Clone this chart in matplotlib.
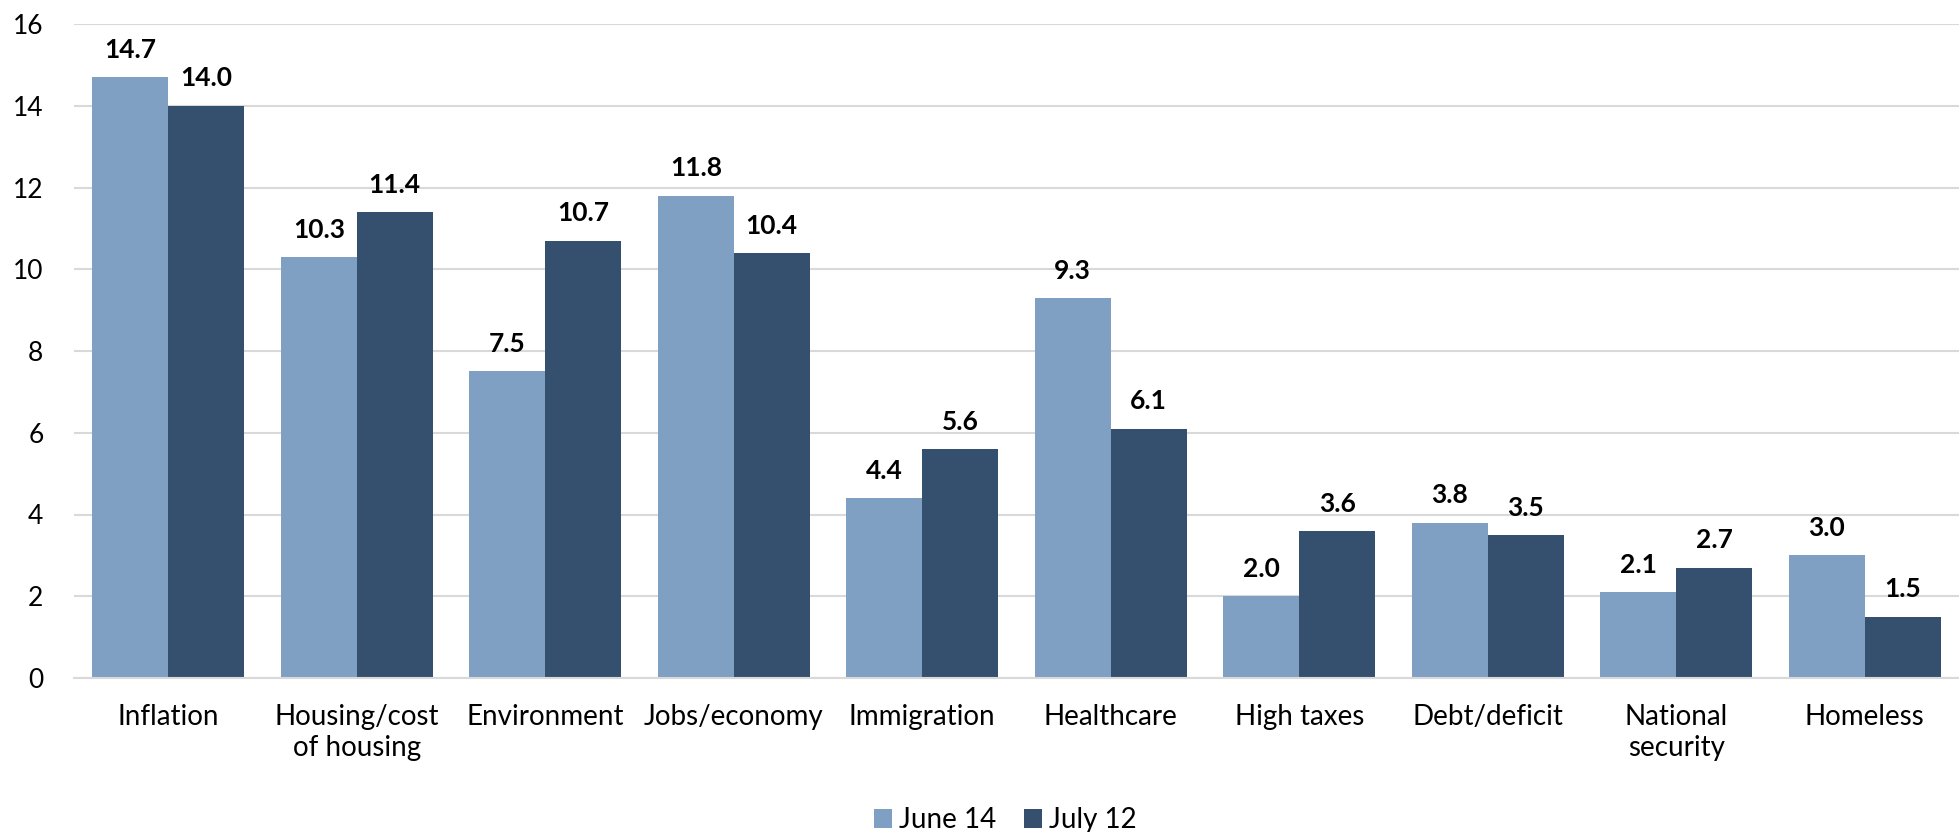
import matplotlib
matplotlib.use("Agg")
import matplotlib.pyplot as plt
import numpy as np

categories = ["Inflation", "Housing/cost\nof housing", "Environment", "Jobs/economy",
              "Immigration", "Healthcare", "High taxes", "Debt/deficit",
              "National\nsecurity", "Homeless"]
june14 = [14.7, 10.3, 7.5, 11.8, 4.4, 9.3, 2.0, 3.8, 2.1, 3.0]
july12 = [14.0, 11.4, 10.7, 10.4, 5.6, 6.1, 3.6, 3.5, 2.7, 1.5]
series_names = ["June 14", "July 12"]
yticks = [0, 2, 4, 6, 8, 10, 12, 14, 16]

plt.rcParams['font.family'] = ['Lato', 'DejaVu Sans']

fig = plt.figure(figsize=(19.59, 8.32), dpi=100)
# plot area: x 74..1959 px, y 24..678 px
ax = fig.add_axes([74 / 1959, 154 / 832, 1 - 74 / 1959, 654 / 832])

x = np.arange(len(categories))
w = 0.403
light = "#7F9FC3"
dark = "#34506E"
b1 = ax.bar(x - w / 2, june14, w, color=light, label=series_names[0], zorder=2)
b2 = ax.bar(x + w / 2, july12, w, color=dark, label=series_names[1], zorder=2)

for bars in (b1, b2):
    for rect in bars:
        h = rect.get_height()
        ax.annotate(f"{h:.1f}", (rect.get_x() + rect.get_width() / 2, h),
                    xytext=(0, 11), textcoords="offset points",
                    ha="center", va="bottom", fontsize=19, fontweight="bold")

ax.set_xlim(-0.5, len(categories) - 0.5)
ax.set_ylim(0, 16)
ax.set_yticks(yticks)
ax.yaxis.grid(True, color="#D9D9D9", linewidth=1.5, zorder=0)
ax.set_axisbelow(True)
ax.set_xticks(x)
ax.set_xticklabels(categories, fontsize=20, linespacing=1.2)
ax.tick_params(axis="y", labelsize=19, length=0, pad=22)
ax.tick_params(axis="x", length=0, pad=19)
for s in ["top", "right", "left"]:
    ax.spines[s].set_visible(False)
ax.spines["bottom"].set_color("#D9D9D9")
ax.spines["bottom"].set_linewidth(1.5)

fig.legend(handles=[b1, b2], loc="center", bbox_to_anchor=(1005 / 1959, 12 / 832),
           ncol=2, frameon=False, fontsize=20, handlelength=0.65, handleheight=0.65,
           handletextpad=0.25, columnspacing=1.0)

fig.savefig("out.png", dpi=100)
